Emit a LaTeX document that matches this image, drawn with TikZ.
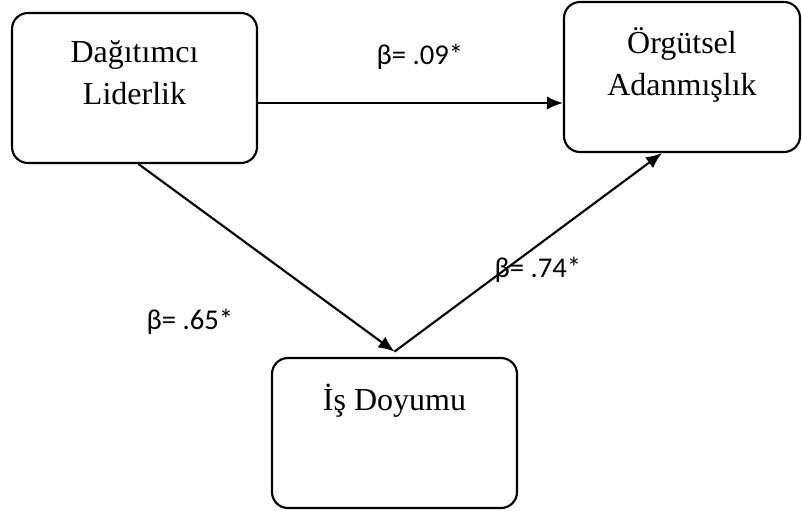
\documentclass[tikz,border=0pt]{standalone}
\usepackage{fontspec}
\setmainfont{Liberation Serif}
\newfontfamily\coeffont{Carlito}
\usepackage{tikz}
\usetikzlibrary{arrows.meta}
\tikzset{>={Latex[length=12pt, width=10pt]}}

\tikzset{
  varbox/.style={draw, line width=1.6pt, rounded corners=12pt, align=center,
    minimum width=183.75pt, minimum height=112.5pt,
    font=\fontsize{24}{31}\selectfont},
  path/.style={->, line width=1.6pt},
  coef/.style={font=\coeffont\fontsize{21.5}{26}\selectfont}
}

\begin{document}
\begin{tikzpicture}[x=0.75pt, y=-0.75pt]
    \useasboundingbox (0, 0) rectangle (802, 510);
    \node[varbox] (lead) at (134.5, 88) {Dağıtımcı\\Liderlik\\[-8pt] };
    \node[varbox, minimum width=177pt] (commit) at (682, 77) {Örgütsel\\Adanmışlık\\[-8pt] };
    \node[varbox] (sat) at (394.5, 433) {İş Doyumu\\ \\[-8pt] };
    \coordinate (h) at ([yshift=-11.25pt]lead.east);
    \coordinate (tip) at ([yshift=4pt]sat.north);
    \draw[path] (h) -- (h -| commit.west);
    \draw[path] ([xshift=3pt]lead.south) -- (tip);
    \draw[path] (tip) -- ([xshift=-15pt]commit.south);
    \node[coef] (b1) at (420, 57) {β= .09*};
    \node[coef] (b2) at (538, 270) {β= .74*};
    \node[coef] (b3) at (190, 322) {β= .65*};
\end{tikzpicture}
\end{document}
